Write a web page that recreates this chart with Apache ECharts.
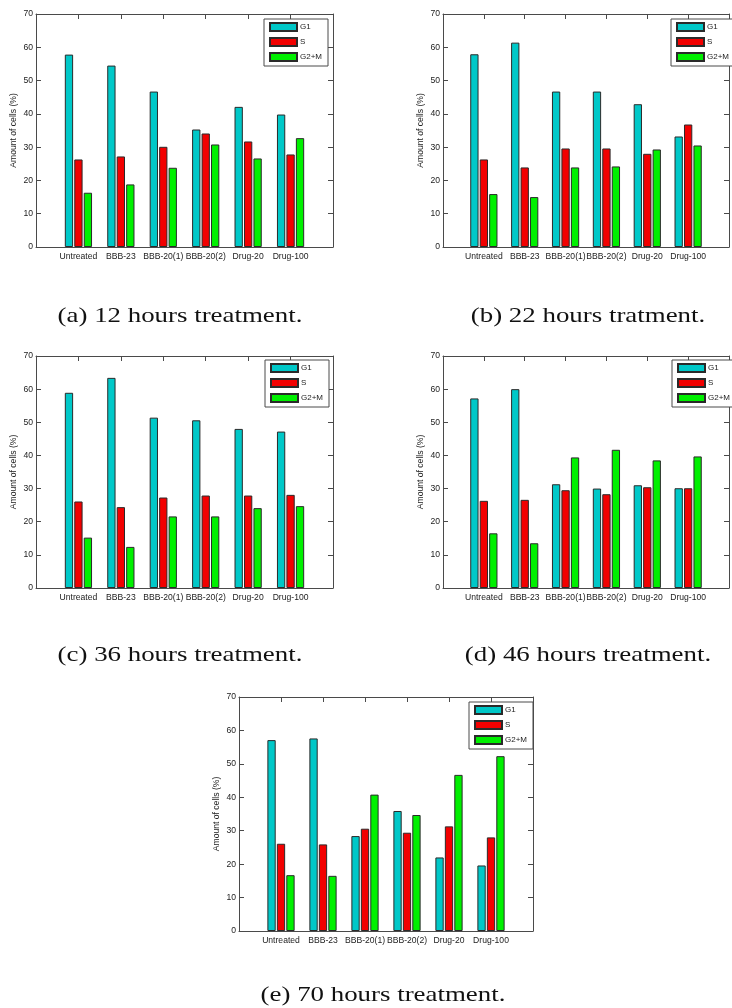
<!DOCTYPE html>
<html>
<head>
<meta charset="utf-8">
<script src="https://cdn.jsdelivr.net/npm/echarts@6/dist/echarts.min.js"></script>
<style>
  html, body { margin: 0; padding: 0; background: #fff; }
  #chart { width: 732px; height: 1008px; }
</style>
</head>
<body>
<div id="chart"></div>
<script>
// Cell-cycle phase distribution per treatment group, five time points.
const categories = ['Untreated', 'BBB-23', 'BBB-20(1)', 'BBB-20(2)', 'Drug-20', 'Drug-100'];
const phaseNames = ['G1', 'S', 'G2+M'];
const yTickMin = 0, yTickMax = 70, yTickStep = 10;
const yAxisTitle = 'Amount of cells (%)';

const h12G1  = [57.8, 54.5, 46.7, 35.3, 42.1, 39.8];
const h12S   = [26.3, 27.2, 30.1, 34.1, 31.7, 27.8];
const h12G2M = [16.3, 18.8, 23.8, 30.8, 26.6, 32.7];

const h22G1  = [57.9, 61.4, 46.7, 46.7, 42.9, 33.2];
const h22S   = [26.3, 23.9, 29.6, 29.6, 28.0, 36.8];
const h22G2M = [15.9, 15.0, 23.9, 24.2, 29.3, 30.5];

const h36G1  = [58.9, 63.4, 51.4, 50.6, 48.0, 47.2];
const h36S   = [26.1, 24.4, 27.3, 27.9, 27.9, 28.1];
const h36G2M = [15.2, 12.4, 21.6, 21.6, 24.1, 24.7];

const h46G1  = [57.2, 60.0, 31.3, 30.0, 31.0, 30.1];
const h46S   = [26.3, 26.6, 29.5, 28.3, 30.4, 30.1];
const h46G2M = [16.5, 13.5, 39.4, 41.7, 38.5, 39.7];

const h70G1  = [57.1, 57.6, 28.4, 35.9, 22.0, 19.6];
const h70S   = [26.1, 25.9, 30.6, 29.4, 31.3, 28.0];
const h70G2M = [16.7, 16.5, 40.8, 34.7, 46.7, 52.3];

const captions = [
  '(a) 12 hours treatment.',
  '(b) 22 hours tratment.',
  '(c) 36 hours treatment.',
  '(d) 46 hours treatment.',
  '(e) 70 hours treatment.'
];

const panelData = [
  [h12G1, h12S, h12G2M],
  [h22G1, h22S, h22G2M],
  [h36G1, h36S, h36G2M],
  [h46G1, h46S, h46G2M],
  [h70G1, h70S, h70G2M]
];

// Plot frames, legend boxes and caption anchors for each subfigure.
const frames = [
  { left: 36,  top: 14,  width: 297, height: 233, legL: 264, legT: 19,  capX: 180, capY: 316 },
  { left: 443, top: 14,  width: 297, height: 233, legL: 671, legT: 19,  capX: 588, capY: 316 },
  { left: 36,  top: 356, width: 297, height: 232, legL: 265, legT: 360, capX: 180, capY: 655 },
  { left: 443, top: 356, width: 297, height: 232, legL: 672, legT: 360, capX: 588, capY: 655 },
  { left: 239, top: 697, width: 294, height: 234, legL: 469, legT: 702, capX: 383, capY: 995 }
];

const phaseColors = ['#00c8c8', '#f20000', '#00f000'];
const frameColor = '#4a4a4a';
const textColor = '#222';
const sans = 'Liberation Sans, Arial, sans-serif';

// Empty slots at both ends place the groups at 1..6 inside a 0..7 frame.
const axisCats = [''].concat(categories, ['']);
const pad = arr => ['-'].concat(arr, ['-']);

const grid = [], xAxis = [], yAxis = [], series = [], legend = [], graphic = [];

frames.forEach((f, p) => {
  grid.push({ left: f.left, top: f.top, width: f.width, height: f.height, show: false });

  const tick = { show: true, inside: true, length: 5, lineStyle: { color: frameColor, width: 1 } };
  const line = { show: true, onZero: false, lineStyle: { color: frameColor, width: 1 } };

  xAxis.push({
    type: 'category', gridIndex: p, position: 'bottom', data: axisCats, boundaryGap: false,
    axisLine: line, axisTick: Object.assign({ interval: 0 }, tick),
    axisLabel: { interval: 0, fontFamily: sans, fontSize: 8.6, color: textColor, margin: 5 },
    splitLine: { show: false }
  });
  xAxis.push({
    type: 'category', gridIndex: p, position: 'top', data: axisCats, boundaryGap: false,
    axisLine: line, axisTick: Object.assign({ interval: 0 }, tick),
    axisLabel: { show: false }, splitLine: { show: false }
  });
  yAxis.push({
    type: 'value', gridIndex: p, position: 'left', min: yTickMin, max: yTickMax, interval: yTickStep,
    name: yAxisTitle, nameLocation: 'middle', nameRotate: 90, nameGap: 18,
    nameTextStyle: { fontFamily: sans, fontSize: 8.6, color: textColor },
    axisLine: line, axisTick: tick,
    axisLabel: { fontFamily: sans, fontSize: 8.6, color: textColor, margin: 3 },
    splitLine: { show: false }
  });
  yAxis.push({
    type: 'value', gridIndex: p, position: 'right', min: yTickMin, max: yTickMax, interval: yTickStep,
    axisLine: line, axisTick: tick, axisLabel: { show: false }, splitLine: { show: false }
  });

  phaseNames.forEach((name, k) => {
    series.push({
      type: 'bar', name: name,
      xAxisIndex: 2 * p, yAxisIndex: 2 * p,
      data: pad(panelData[p][k]),
      barWidth: 8.3, barGap: '14%',
      itemStyle: { color: phaseColors[k], borderColor: '#2a2a2a', borderWidth: 1 },
      emphasis: { disabled: true },
      animation: false
    });
  });

  legend.push({
    data: phaseNames, orient: 'vertical', left: f.legL, top: f.legT,
    itemWidth: 27, itemHeight: 8, itemGap: 5,
    padding: [3, 6, 4, 5],
    backgroundColor: '#fff', borderColor: frameColor, borderWidth: 1, borderRadius: 0,
    icon: 'rect',
    textStyle: { fontFamily: sans, fontSize: 8, color: textColor, lineHeight: 8, padding: [0, 0, 0, -2] },
    selectedMode: false
  });

  graphic.push({
    type: 'text', x: f.capX, y: f.capY, scaleX: 1.28,
    style: {
      text: captions[p], fontFamily: 'Liberation Serif, Times New Roman, serif',
      fontSize: 21, fill: '#111', textAlign: 'center', textVerticalAlign: 'middle'
    }
  });
});

const chart = echarts.init(document.getElementById('chart'), null, { renderer: 'canvas' });
chart.setOption({
  backgroundColor: '#fff',
  animation: false,
  grid, xAxis, yAxis, series, legend, graphic
});
</script>
</body>
</html>
